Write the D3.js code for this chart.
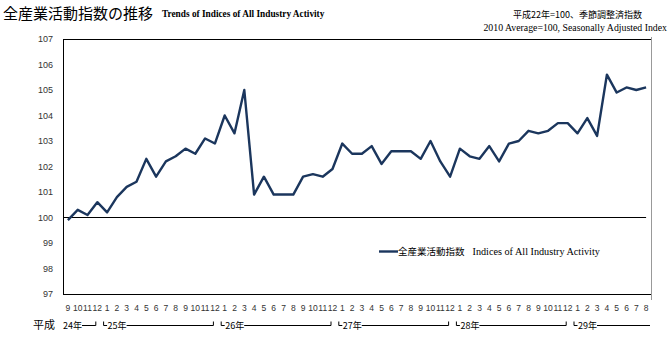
<!DOCTYPE html>
<html><head><meta charset="utf-8">
<script src="https://cdn.jsdelivr.net/npm/d3@7"></script>
<style>body{margin:0;background:#fff}svg{display:block}</style>
</head><body>
<svg id="c" width="670" height="337"></svg>
<script>
const categories = ["2012-09","2012-10","2012-11","2012-12",
 "2013-01","2013-02","2013-03","2013-04","2013-05","2013-06","2013-07","2013-08","2013-09","2013-10","2013-11","2013-12",
 "2014-01","2014-02","2014-03","2014-04","2014-05","2014-06","2014-07","2014-08","2014-09","2014-10","2014-11","2014-12",
 "2015-01","2015-02","2015-03","2015-04","2015-05","2015-06","2015-07","2015-08","2015-09","2015-10","2015-11","2015-12",
 "2016-01","2016-02","2016-03","2016-04","2016-05","2016-06","2016-07","2016-08","2016-09","2016-10","2016-11","2016-12",
 "2017-01","2017-02","2017-03","2017-04","2017-05","2017-06","2017-07","2017-08"];
const monthLabels = ["9","10","11","12",
 "1","2","3","4","5","6","7","8","9","10","11","12",
 "1","2","3","4","5","6","7","8","9","10","11","12",
 "1","2","3","4","5","6","7","8","9","10","11","12",
 "1","2","3","4","5","6","7","8","9","10","11","12",
 "1","2","3","4","5","6","7","8"];
const values = [99.9,100.3,100.1,100.6,
 100.2,100.8,101.2,101.4,102.3,101.6,102.2,102.4,102.7,102.5,103.1,102.9,
 104.0,103.3,105.0,100.9,101.6,100.9,100.9,100.9,101.6,101.7,101.6,101.9,
 102.9,102.5,102.5,102.8,102.1,102.6,102.6,102.6,102.3,103.0,102.2,101.6,
 102.7,102.4,102.3,102.8,102.2,102.9,103.0,103.4,103.3,103.4,103.7,103.7,
 103.3,103.9,103.2,105.6,104.9,105.1,105.0,105.1];
const yTicks = [97,98,99,100,101,102,103,104,105,106,107];
const yearLabels = ["24年","25年","26年","27年","28年","29年"];
const yearStart = ["2012-09","2013-01","2014-01","2015-01","2016-01","2017-01"];
const yearEnd = ["2012-12","2013-12","2014-12","2015-12","2016-12","2017-08"];
const seriesName = "全産業活動指数";
const seriesNameEn = "Indices of All Industry Activity";

const svg = d3.select("#c");
const L=63, R=651, T=39, B=294;
const x = d3.scalePoint().domain(categories).range([L,R]).padding(0.5);
const y = d3.scaleLinear().domain([97,107]).range([B,T]);
const jp = "'Noto Sans CJK JP','Noto Sans',sans-serif";
const serif = "'Liberation Serif','DejaVu Serif',serif";
const sans = "'Liberation Sans','Noto Sans',sans-serif";

// titles
svg.append("text").attr("x",3).attr("y",19).attr("font-family",jp).attr("font-size",15).attr("fill","#000").text("全産業活動指数の推移");
svg.append("text").attr("x",162).attr("y",17).attr("font-family",serif).attr("font-weight","bold").attr("font-size",9.3).attr("fill","#000").text("Trends of Indices of All Industry Activity");
svg.append("text").attr("x",642).attr("y",18).attr("text-anchor","end").attr("font-family",jp).attr("font-size",9).attr("fill","#000").text("平成22年=100、季節調整済指数");
svg.append("text").attr("x",667).attr("y",31).attr("text-anchor","end").attr("font-family",serif).attr("font-size",9.8).attr("fill","#000").text("2010 Average=100, Seasonally Adjusted Index");

// frame
svg.append("line").attr("x1",L).attr("x2",R).attr("y1",T+0.5).attr("y2",T+0.5).attr("stroke","#000");
svg.append("line").attr("x1",L+0.5).attr("x2",L+0.5).attr("y1",T).attr("y2",B).attr("stroke","#000");
svg.append("line").attr("x1",L).attr("x2",R).attr("y1",B+0.5).attr("y2",B+0.5).attr("stroke","#000");
svg.append("line").attr("x1",R+0.5).attr("x2",R+0.5).attr("y1",T-2).attr("y2",B+6).attr("stroke","#999");
// 100 baseline
svg.append("line").attr("x1",L).attr("x2",x(categories[categories.length-1])).attr("y1",Math.round(y(100))+0.5).attr("y2",Math.round(y(100))+0.5).attr("stroke","#000");

// y axis labels
svg.append("g").selectAll("text").data(yTicks).join("text")
 .attr("x",53).attr("y",d=>y(d)+3).attr("text-anchor","end")
 .attr("font-family",sans).attr("font-size",9).attr("fill","#333").text(d=>d);

// month labels
svg.append("g").selectAll("text").data(categories).join("text")
 .attr("x",d=>x(d)).attr("y",311).attr("text-anchor","middle")
 .attr("font-family",sans).attr("font-size",8.5).attr("fill","#333")
 .text((d,i)=>monthLabels[i]);

// line
svg.append("path").datum(values)
 .attr("d",d3.line().x((d,i)=>x(categories[i])).y(d=>y(d)))
 .attr("fill","none").attr("stroke","#1b365d").attr("stroke-width",2.4).attr("stroke-linejoin","round");

// era label + year brackets
svg.append("text").attr("x",33).attr("y",329).attr("font-family",jp).attr("font-size",11).attr("fill","#000").text("平成");
const yl = 325.5;
yearLabels.forEach((lab,i)=>{
  const xs = x(yearStart[i]), xe = x(yearEnd[i]);
  const g = svg.append("g");
  const first = i===0, last = i===yearLabels.length-1;
  const tx = first ? 63 : xs+0.5;
  if(!first){
    g.append("path").attr("d",`M${xs-3.5},${yl-4}V${yl}H${xs}`).attr("fill","none").attr("stroke","#000");
  }
  const t = g.append("text").attr("x",tx).attr("y",329).attr("font-family",jp).attr("font-size",9).attr("fill","#000").text(lab);
  const w = t.node().getComputedTextLength();
  const lx0 = tx+w;
  const lx1 = last ? 650 : xe-1.5;
  g.append("line").attr("x1",lx0).attr("x2",lx1).attr("y1",yl).attr("y2",yl).attr("stroke","#000");
  if(!last){
    g.append("path").attr("d",`M${lx1},${yl}V${yl-4}`).attr("fill","none").attr("stroke","#000");
  }
});

// legend
svg.append("line").attr("x1",379).attr("x2",398).attr("y1",251.5).attr("y2",251.5).attr("stroke","#1b365d").attr("stroke-width",2.4);
const lt = svg.append("text").attr("x",398).attr("y",255).attr("fill","#000");
lt.append("tspan").attr("font-family",jp).attr("font-size",9.5).text(seriesName);
lt.append("tspan").attr("font-family",serif).attr("font-size",10.2).attr("dx",8).text(seriesNameEn);
</script>
</body></html>
